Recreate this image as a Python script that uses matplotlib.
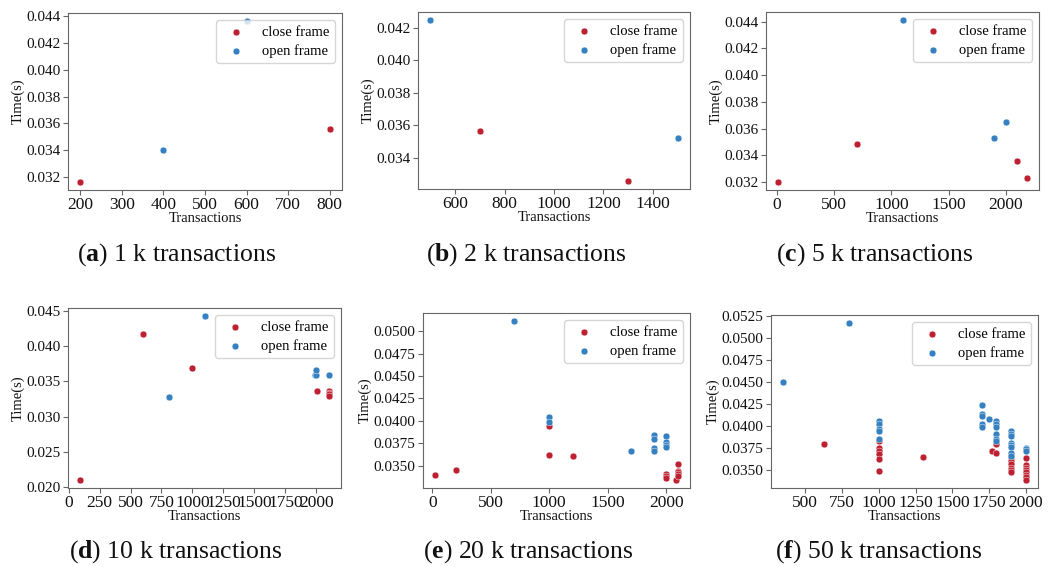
import matplotlib
matplotlib.use("Agg")
import matplotlib.pyplot as plt
from matplotlib.ticker import MultipleLocator

plt.rcParams['font.family'] = ['Liberation Serif', 'DejaVu Serif']
plt.rcParams['mathtext.fontset'] = 'custom'
plt.rcParams['mathtext.rm'] = 'Liberation Serif'
plt.rcParams['mathtext.bf'] = 'Liberation Serif:bold'

RED = '#bd2030'
BLUE = '#3480c0'

# (a) 1 k transactions
a_close_x = [200, 800]
a_close_y = [0.03165, 0.03557]
a_open_x = [400, 600]
a_open_y = [0.0340, 0.04362]

# (b) 2 k transactions
b_close_x = [700, 1300]
b_close_y = [0.03566, 0.03257]
b_open_x = [500, 1500]
b_open_y = [0.04247, 0.03519]

# (c) 5 k transactions
c_close_x = [15, 700, 2100, 2180]
c_close_y = [0.03202, 0.03484, 0.03359, 0.03229]
c_open_x = [1100, 1900, 2000]
c_open_y = [0.04412, 0.03528, 0.03653]

# (d) 10 k transactions
d_close_x = [95, 600, 1000, 2010, 2100, 2100, 2100, 2100]
d_close_y = [0.0210, 0.04176, 0.03695, 0.03362, 0.03364, 0.03340, 0.03320, 0.03300]
d_open_x = [810, 1100, 1990, 2000, 2000, 2100]
d_open_y = [0.03281, 0.04429, 0.0359, 0.0359, 0.03662, 0.0359]

# (e) 20 k transactions
e_close_x = [25, 200, 1000, 1000, 1200, 2000, 2000, 2000, 2080,
             2100, 2100, 2100, 2100, 2100]
e_close_y = [0.03396, 0.03448, 0.03946, 0.03619, 0.03608, 0.03411, 0.03385, 0.03362, 0.03340,
             0.03519, 0.03444, 0.03425, 0.03408, 0.03390]
e_open_x = [700, 1000, 1000, 1700, 1900, 1900, 1900, 1900, 2000, 2000, 2000, 2000]
e_open_y = [0.05115, 0.04046, 0.0399, 0.03667, 0.03845, 0.03797, 0.03693, 0.0366,
            0.03834, 0.03767, 0.03734, 0.03704]

# (f) 50 k transactions
f_close_x = [630, 1000, 1000, 1000, 1000, 1000, 1000, 1300, 1770, 1800, 1800, 1800,
             1900, 1900, 1900, 1900, 1900, 1900, 1900,
             2000, 2000, 2000, 2000, 2000, 2000, 2000, 2000]
f_close_y = [0.0380, 0.03830, 0.03755, 0.03718, 0.03680, 0.03624, 0.03493, 0.0365, 0.03718,
             0.0382, 0.0380, 0.03692,
             0.03673, 0.03643, 0.03605, 0.03568, 0.0353, 0.0350, 0.03474,
             0.03643, 0.03556, 0.0353, 0.0350, 0.03474, 0.03447, 0.03417, 0.03387]
f_open_x = [350, 800, 1000, 1000, 1000, 1000, 1000,
            1700, 1700, 1700, 1700, 1700, 1750,
            1800, 1800, 1800, 1800, 1800, 1800,
            1900, 1900, 1900, 1900, 1900, 1900, 1900, 1900,
            2000, 2000, 2000]
f_open_y = [0.04499, 0.05175, 0.04063, 0.04026, 0.03973, 0.03943, 0.03857,
            0.04244, 0.04138, 0.04112, 0.04026, 0.03992, 0.04082,
            0.04063, 0.04026, 0.03992, 0.03917, 0.03849, 0.03830,
            0.03943, 0.03906, 0.03887, 0.03812, 0.03786, 0.03763, 0.03699, 0.03661,
            0.03755, 0.03737, 0.03718]

captions = ['($\\mathbf{a}$) 1 k transactions', '($\\mathbf{b}$) 2 k transactions',
            '($\\mathbf{c}$) 5 k transactions', '($\\mathbf{d}$) 10 k transactions',
            '($\\mathbf{e}$) 20 k transactions', '($\\mathbf{f}$) 50 k transactions']

# tick steps (x, y) per panel
x_steps = [100, 200, 500, 250, 500, 250]
y_steps = [0.002, 0.002, 0.002, 0.005, 0.0025, 0.0025]

panels = [
    (a_close_x, a_close_y, a_open_x, a_open_y),
    (b_close_x, b_close_y, b_open_x, b_open_y),
    (c_close_x, c_close_y, c_open_x, c_open_y),
    (d_close_x, d_close_y, d_open_x, d_open_y),
    (e_close_x, e_close_y, e_open_x, e_open_y),
    (f_close_x, f_close_y, f_open_x, f_open_y),
]

W, H = 1051, 566
# axes boxes in pixels: left, right, top, bottom
boxes = [(68, 342, 13, 190), (418, 690, 12, 189), (766, 1039, 12, 190),
         (68, 341, 308, 488), (423, 690, 313, 488), (771, 1038, 315, 488)]
cap_pos = [(177, 255), (526, 255), (875, 255), (176, 552), (528, 552), (879, 552)]

fig = plt.figure(figsize=(W / 100, H / 100), dpi=100)

LFS = 10.5
for (l, r, t, b), (cx, cy, ox, oy), cap, (px, py), xs, ys in zip(
        boxes, panels, captions, cap_pos, x_steps, y_steps):
    ax = fig.add_axes([l / W, 1 - b / H, (r - l) / W, (b - t) / H])
    ax.scatter(cx, cy, s=24, color=RED, edgecolors='white', linewidths=0.3, label='close frame')
    ax.scatter(ox, oy, s=24, color=BLUE, edgecolors='white', linewidths=0.3, label='open frame')
    ax.xaxis.set_major_locator(MultipleLocator(xs))
    ax.yaxis.set_major_locator(MultipleLocator(ys))
    for sp in ax.spines.values():
        sp.set_color('#666666')
    ax.tick_params(colors='#666666', labelcolor='#111111', length=3.5, pad=2)
    ax.tick_params(axis='x', labelsize=12.5, pad=1.5)
    ax.tick_params(axis='y', labelsize=11)
    ax.set_xlabel('Transactions', fontsize=LFS, color='#111111', labelpad=-0.5)
    ax.set_ylabel('Time(s)', fontsize=LFS, color='#111111', labelpad=1)
    ax.legend(loc='upper right', fontsize=LFS, borderpad=0.35, labelspacing=0.4)
    fig.text(px / W, 1 - py / H, cap, fontsize=18.5, ha='center', va='center', color='#111111')

fig.savefig('out.png', dpi=100)
